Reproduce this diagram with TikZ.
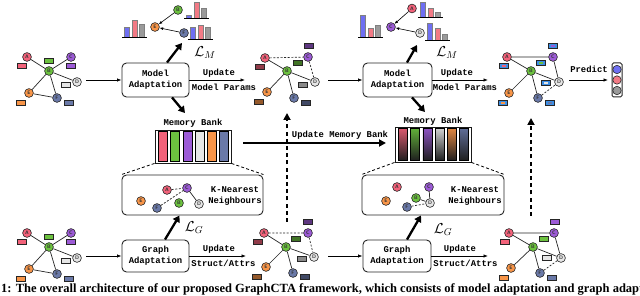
\documentclass[tikz,border=0pt]{standalone}
\usepackage{fontspec}
\setmainfont{Liberation Serif}
\setmonofont{Liberation Mono}
\usetikzlibrary{arrows.meta}
\definecolor{cA}{HTML}{F2627A}
\definecolor{cB}{HTML}{6CC13F}
\definecolor{cC}{HTML}{9C5BD6}
\definecolor{cD}{HTML}{E6E6E6}
\definecolor{cE}{HTML}{F89548}
\definecolor{cF}{HTML}{6A79A8}
\definecolor{hB}{HTML}{6F6FF2}
\definecolor{hR}{HTML}{F27A85}
\definecolor{hG}{HTML}{9A9A9A}
\definecolor{fblue}{HTML}{3D8FE6}
\newcommand\mono{\fontsize{8.9}{11}\selectfont\ttfamily\bfseries}
\newcommand\GN[5]{\node[gnode,fill=#4] (#1) at (#2,#3) {#5};}
\newcommand\FR[4]{\node[feat,fill=#4] (#1) at (#2,#3) {};}
\newcommand\FRB[4]{\node[feat,fill=fblue] (#1) at (#2,#3) {};\node[featin,fill=#4] (#1i) at (#2,#3) {};}
\newcommand\Hist[5]{%
  \draw[hbar,fill=hB] (#1+2,#2) rectangle (#1+7,#3);
  \draw[hbar,fill=hR] (#1+9.8,#2) rectangle (#1+14.8,#4);
  \draw[hbar,fill=hG] (#1+17.4,#2) rectangle (#1+22.4,#5);
  \draw[hbase] (#1,#2) -- (#1+25,#2);}
\begin{document}
\begin{tikzpicture}[x=1pt,y=-1pt,
  gnode/.style={circle,draw=black!85,line width=0.6pt,minimum size=8.8pt,inner sep=0pt,font=\fontsize{5}{5}\selectfont\sffamily\bfseries,text=black!80},
  feat/.style={draw=black!85,line width=0.7pt,minimum width=9pt,minimum height=5pt,inner sep=0pt},
  featin/.style={inner sep=0pt,minimum width=3.2pt,minimum height=2pt},
  ge/.style={line width=0.7pt,black!85},
  gd/.style={ge,dash pattern=on 2pt off 1.6pt},
  box/.style={draw=black!85,line width=0.9pt,rounded corners=4.5pt,fill=white,align=center,font=\mono,inner sep=0pt},
  lbl/.style={font=\mono,inner sep=0pt,align=center},
  thinarr/.style={line width=0.7pt,-{Latex[length=4.5pt,width=3.4pt]}},
  smallarr/.style={line width=0.6pt,-{Latex[length=3.5pt,width=2.8pt]}},
  thickarr/.style={line width=2.3pt,-{Triangle[length=6.5pt,width=7.5pt]}},
  vdash/.style={line width=1.9pt,dash pattern=on 4pt off 3.2pt,-{Triangle[length=7pt,width=7pt]}},
  bankdash/.style={line width=0.8pt,dash pattern=on 3pt off 2.2pt},
  hbar/.style={draw=black!50,line width=0.3pt},
  hbase/.style={line width=0.8pt},
  lossl/.style={font=\fontsize{14}{14}\selectfont,inner sep=0pt},
]
\useasboundingbox[fill=white] (0,0) rectangle (640,296);

% ---------- Graph 1 (top-left input)
\FR{g1Af}{22}{66}{cA}\FR{g1Bf}{49}{61}{cB}\FR{g1Cf}{71}{66}{cC}
\FR{g1Df}{66}{85}{cD}\FR{g1Ef}{21}{103}{cE}\FR{g1Ff}{69}{103}{cF}
\GN{g1A}{27}{57}{cA}{A}\GN{g1B}{49}{71}{cB}{B}\GN{g1C}{71}{57}{cC}{C}
\GN{g1D}{77}{82}{cD}{D}\GN{g1E}{29}{93}{cE}{E}\GN{g1F}{57}{98}{cF}{F}
\draw[ge] (g1A)--(g1B) (g1C)--(g1B) (g1B)--(g1D) (g1B)--(g1E) (g1B)--(g1F) (g1E)--(g1F);

% ---------- Graph 4 (bottom-left input)
\FR{g4Af}{22}{242}{cA}\FR{g4Bf}{49}{237}{cB}\FR{g4Cf}{71}{242}{cC}
\FR{g4Df}{66}{261}{cD}\FR{g4Ef}{21}{279}{cE}\FR{g4Ff}{69}{279}{cF}
\GN{g4A}{27}{233}{cA}{A}\GN{g4B}{49}{247}{cB}{B}\GN{g4C}{71}{233}{cC}{C}
\GN{g4D}{77}{258}{cD}{D}\GN{g4E}{29}{269}{cE}{E}\GN{g4F}{57}{274}{cF}{F}
\draw[ge] (g4A)--(g4B) (g4C)--(g4B) (g4B)--(g4D) (g4B)--(g4E) (g4B)--(g4F) (g4E)--(g4F);

% ---------- Graph 2 (top-middle)
\FR{g2Af}{260}{67}{cA!60!black}\FR{g2Bf}{298}{63}{cB!60!black}\FR{g2Cf}{309}{46}{cC!60!black}
\FR{g2Df}{303}{85}{cD!60!black}\FR{g2Ef}{259}{102}{cE!60!black}\FR{g2Ff}{306}{103}{cF!60!black}
\GN{g2A}{265}{58}{cA}{A}\GN{g2B}{287}{71}{cB}{B}\GN{g2C}{308}{57}{cC}{C}
\GN{g2D}{315}{82}{cD}{D}\GN{g2E}{267}{92}{cE}{E}\GN{g2F}{294}{98}{cF}{F}
\draw[ge] (g2A)--(g2B) (g2B)--(g2D) (g2B)--(g2E) (g2B)--(g2F);
\draw[gd] (g2A)--(g2C) (g2C)--(g2D);

% ---------- Graph 5 (bottom-middle)
\FR{g5Af}{258}{242}{cA!60!black}\FR{g5Bf}{296}{239}{cB!60!black}\FR{g5Cf}{308}{222}{cC!60!black}
\FR{g5Df}{302}{259}{cD!60!black}\FR{g5Ef}{257}{277}{cE!60!black}\FR{g5Ff}{305}{277}{cF!60!black}
\GN{g5A}{264}{233}{cA}{A}\GN{g5B}{286}{247}{cB}{B}\GN{g5C}{308}{233}{cC}{C}
\GN{g5D}{314}{257}{cD}{D}\GN{g5E}{266}{267}{cE}{E}\GN{g5F}{293}{273}{cF}{F}
\draw[ge] (g5A)--(g5B) (g5B)--(g5D) (g5B)--(g5E) (g5B)--(g5F);
\draw[gd] (g5A)--(g5C) (g5C)--(g5D);

% ---------- Graph 3 (top-right)
\FRB{g3Af}{504}{66}{cA}\FRB{g3Bf}{541}{63}{cB}\FRB{g3Cf}{553}{46}{cC}
\FRB{g3Df}{546}{83}{cD}\FRB{g3Ef}{503}{103}{cE}\FRB{g3Ff}{550}{103}{cF}
\GN{g3A}{507}{57}{cA}{A}\GN{g3B}{531}{71}{cB}{B}\GN{g3C}{553}{57}{cC}{C}
\GN{g3D}{559}{82}{cD}{D}\GN{g3E}{509}{93}{cE}{E}\GN{g3F}{538}{98}{cF}{F}
\draw[ge] (g3A)--(g3C) (g3A)--(g3B) (g3B)--(g3D) (g3C)--(g3D) (g3B)--(g3E) (g3B)--(g3F);
\draw[gd] (g3F)--(g3D);

% ---------- Graph 6 (bottom-right)
\FR{g6Af}{505}{242}{cA}\FR{g6Bf}{544}{239}{cB}\FR{g6Cf}{555}{222}{cC}
\FR{g6Df}{547}{258}{cD}\FR{g6Ef}{504}{278}{cE}\FR{g6Ff}{552}{278}{cF}
\GN{g6A}{509}{233}{cA}{A}\GN{g6B}{533}{247}{cB}{B}\GN{g6C}{554}{233}{cC}{C}
\GN{g6D}{561}{258}{cD}{D}\GN{g6E}{511}{268}{cE}{E}\GN{g6F}{540}{273}{cF}{F}
\draw[ge] (g6A)--(g6C) (g6A)--(g6B) (g6B)--(g6D) (g6C)--(g6D) (g6B)--(g6E) (g6B)--(g6F);
\draw[gd] (g6F)--(g6D);

% ---------- Boxes
\node[box,minimum width=67pt,minimum height=34pt] (mb1) at (155.5,80) {Model\\Adaptation};
\node[box,minimum width=69pt,minimum height=34pt] (mb2) at (397.5,80) {Model\\Adaptation};
\node[box,minimum width=67pt,minimum height=32pt] (gb1) at (155.5,256) {Graph\\Adaptation};
\node[box,minimum width=68pt,minimum height=32pt] (gb2) at (397,256) {Graph\\Adaptation};

% ---------- Flow arrows
\coordinate (o1) at (86,80);   \coordinate (i2) at (245,80);
\coordinate (o2) at (328,80);  \coordinate (i3) at (488,80);
\coordinate (o4) at (86,256);  \coordinate (i5) at (246,256);
\coordinate (o5) at (328,256); \coordinate (i6) at (488,256);
\draw[thinarr] (o1)--(mb1.west);
\draw[thinarr] (mb1.east)--(i2);
\draw[thinarr] (o2)--(mb2.west);
\draw[thinarr] (mb2.east)--(i3);
\draw[thinarr] (o4)--(gb1.west);
\draw[thinarr] (gb1.east)--(i5);
\draw[thinarr] (o5)--(gb2.west);
\draw[thinarr] (gb2.east)--(i6);
\node[lbl] (u1) at (219,73.5) {Update};
\node[lbl] (u1b) at (224,87) {Model Params};
\node[lbl] (u2) at (457,73.5) {Update};
\node[lbl] (u2b) at (465,87) {Model Params};
\node[lbl] (u4) at (219,249.5) {Update};
\node[lbl] (u4b) at (223.5,263) {Struct/Attrs};
\node[lbl] (u5) at (460,249.5) {Update};
\node[lbl] (u5b) at (465.5,263) {Struct/Attrs};

% ---------- Prediction
\node[draw=black!85,line width=1pt,rounded corners=1.5pt,minimum width=10pt,minimum height=34pt,inner sep=0pt,fill=white] (pred) at (617,80) {};
\node[circle,draw=black!85,line width=0.6pt,fill=hB,minimum size=8.4pt,inner sep=0pt] (p1) at (617,69.5) {};
\node[circle,draw=black!85,line width=0.6pt,fill=hR,minimum size=8.4pt,inner sep=0pt] (p2) at (617,80) {};
\node[circle,draw=black!85,line width=0.6pt,fill=hG,minimum size=8.4pt,inner sep=0pt] (p3) at (617,90.5) {};
\coordinate (pr0) at (569,80); \coordinate (pr1) at (608,80);
\draw[thinarr] (pr0)--(pr1);
\node[lbl] (predt) at (589,69) {Predict};

% ---------- Histogram clusters (top)
\Hist{122}{37}{27}{20}{24}
\Hist{184}{18.5}{15}{2}{8}
\Hist{188}{39.5}{27}{25}{27}
\GN{h1E}{155}{27}{cE}{E}\GN{h1B}{178}{10}{cB}{B}\GN{h1F}{184}{33}{cF}{F}
\draw[smallarr] (h1B)--(h1E);
\draw[smallarr] (h1F)--(h1E);
\node[lossl] (lm1) at (205,53) {$\mathcal{L}_M$};

\Hist{358}{37}{15}{28}{25}
\Hist{418}{17}{2}{8}{12}
\Hist{425}{40}{23}{28}{34}
\GN{h2C}{391}{27}{cC}{C}\GN{h2A}{412}{8.5}{cA}{A}\GN{h2D}{420}{33}{cD}{D}
\draw[smallarr] (h2A)--(h2C);
\draw[smallarr] (h2D)--(h2C);
\node[lossl] (lm2) at (447,53) {$\mathcal{L}_M$};

% ---------- Memory banks
\node[lbl] (mbl1) at (193,123) {Memory Bank};
\node[draw=black!90,line width=0.9pt,fill=white,minimum width=76pt,minimum height=33pt,inner sep=0pt] (bank1) at (193,146.5) {};
\foreach \c [count=\i from 0] in {cA,cB,cC,cD,cE,cF}
  \draw[line width=0.5pt,fill=\c] ({158.5+12.2*\i},131.5) rectangle ({167.5+12.2*\i},161.5);
\node[lbl] (mbl2) at (433,121) {Memory Bank};
\node[draw=black!90,line width=0.9pt,fill=white,minimum width=76pt,minimum height=35pt,inner sep=0pt] (bank2) at (433,144.5) {};
\foreach \c [count=\i from 0] in {cA,cB,cC,cD,cE,cF}
  \draw[line width=0.5pt,top color=\c!90!black,bottom color=black!88] ({398.5+12.2*\i},128.5) rectangle ({407.5+12.2*\i},160.5);

% ---------- KNN boxes
\node[box,minimum width=141pt,minimum height=40pt] (knn1) at (192.5,195) {};
\node[box,minimum width=142pt,minimum height=40pt] (knn2) at (433,195) {};
\node[lbl] (kt1) at (235,196) {K-Nearest\\Neighbours};
\node[lbl] (kt2) at (475,196) {K-Nearest\\Neighbours};
\draw[bankdash] (bank1.south west)--(knn1.north west);
\draw[bankdash] (bank1.south east)--(knn1.north east);
\draw[bankdash] (bank2.south west)--(knn2.north west);
\draw[bankdash] (bank2.south east)--(knn2.north east);

\GN{k1A}{167}{190}{cA}{A}\GN{k1B}{179}{203}{cB}{B}\GN{k1C}{187}{188}{cC}{C}
\GN{k1D}{199}{204}{cD}{D}\GN{k1E}{141}{201}{cE}{E}\GN{k1F}{157}{208}{cF}{F}
\draw[gd] (k1A)--(k1C) (k1F)--(k1C);
\draw[ge] (k1C)--(k1D);

\GN{k2A}{397}{187}{cA}{A}\GN{k2B}{416}{198}{cB}{B}\GN{k2C}{429}{187}{cC}{C}
\GN{k2D}{430}{203}{cD}{D}\GN{k2E}{386}{201}{cE}{E}\GN{k2F}{407}{207}{cF}{F}
\draw[ge] (k2C)--(k2D) (k2B)--(k2D);
\draw[gd] (k2F)--(k2D);

% ---------- Thick arrows
\coordinate (tm1) at (182,43);  \coordinate (tb1) at (185,113);
\coordinate (tm2) at (417,45);  \coordinate (tb2) at (425,112);
\draw[thickarr] ([xshift=11.5pt]mb1.north)--(tm1);
\draw[thickarr] ([xshift=16.5pt]mb1.south)--(tb1);
\draw[thickarr] ([xshift=9.5pt]mb2.north)--(tm2);
\draw[thickarr] ([xshift=14.5pt]mb2.south)--(tb2);
\draw[thickarr] ([xshift=9.5pt]gb1.north)--([xshift=-13pt]knn1.south);
\draw[thickarr] ([xshift=10pt]gb2.north)--([xshift=-12pt]knn2.south);
\node[lossl] (lg1) at (194,228) {$\mathcal{L}_G$};
\node[lossl] (lg2) at (443,230) {$\mathcal{L}_G$};

% ---------- Update memory bank + dashed verticals
\coordinate (um0) at (243,143); \coordinate (um1) at (386,143);
\draw[line width=2pt,-{Triangle[length=7pt,width=7pt]}] (um0)--(um1);
\node[lbl] (umt) at (340,135) {Update Memory Bank};
\coordinate (v1s) at (287,222); \coordinate (v1e) at (287,113);
\coordinate (v2s) at (531,216); \coordinate (v2e) at (531,118);
\draw[vdash] (v1s)--(v1e);
\draw[vdash] (v2s)--(v2e);

% ---------- Caption (cut off at both edges, as in the reference)
\node[anchor=base west,inner sep=0pt,font=\fontsize{12.5}{14}\selectfont\bfseries] (cap) at (1,293)
  {\llap{Figure }1: The overall architecture of our proposed GraphCTA framework, which consists of model adaptation and graph adaptation.};
\end{tikzpicture}
\end{document}
